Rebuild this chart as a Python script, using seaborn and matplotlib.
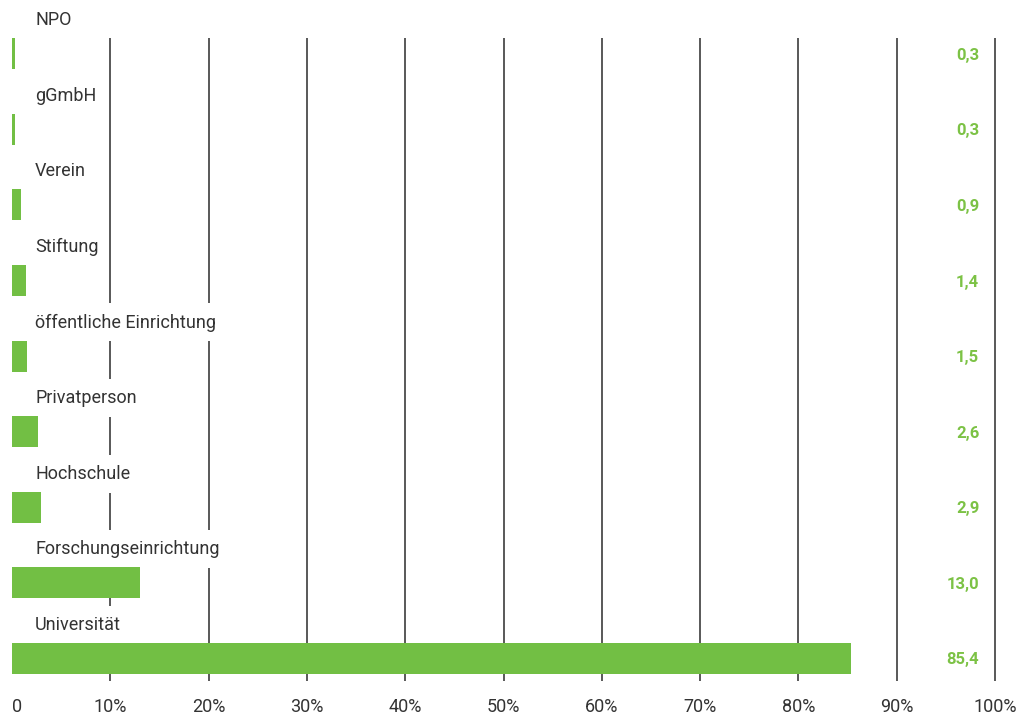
import matplotlib
matplotlib.use("Agg")
import matplotlib.pyplot as plt
import seaborn as sns
import pandas as pd

categories = ["NPO", "gGmbH", "Verein", "Stiftung", "öffentliche Einrichtung",
              "Privatperson", "Hochschule", "Forschungseinrichtung", "Universität"]
values = [0.3, 0.3, 0.9, 1.4, 1.5, 2.6, 2.9, 13.0, 85.4]
value_labels = ["0,3", "0,3", "0,9", "1,4", "1,5", "2,6", "2,9", "13,0", "85,4"]
x_ticks = [0, 10, 20, 30, 40, 50, 60, 70, 80, 90, 100]
x_tick_labels = ["0", "10%", "20%", "30%", "40%", "50%", "60%", "70%", "80%", "90%", "100%"]

BAR_GREEN = "#72bf44"
VALUE_GREEN = "#7cc245"
TEXT_GREY = "#333333"
LINE_GREY = "#2b2b2b"

sns.set_theme(style="white")
plt.rcParams["font.family"] = ["Roboto", "DejaVu Sans"]

df = pd.DataFrame({"category": categories, "share": values})

W, H = 1023, 715
fig = plt.figure(figsize=(W / 100, H / 100), dpi=100)
ax = fig.add_axes([12 / W, 1 - 681 / H, 983 / W, (681 - 38) / H])

sns.barplot(data=df, x="share", y="category", orient="h", color=BAR_GREEN,
            saturation=1, width=0.41, linewidth=0, ax=ax, zorder=3)

ax.set_xlim(0, 100)
ax.set_ylim(8.3, -0.21)

# vertical reference lines at every 10 %
ax.vlines(x_ticks[1:], 8.3, -0.21, color=LINE_GREY, linewidth=1.1, zorder=1,
          clip_on=False)

for s in ax.spines.values():
    s.set_visible(False)

ax.set_xticks(x_ticks)
ax.set_xticklabels(x_tick_labels, fontsize=13, color=TEXT_GREY)
ax.get_xticklabels()[0].set_horizontalalignment("left")
ax.tick_params(axis="x", length=0, pad=12)
ax.set_yticks([])
ax.set_xlabel("")
ax.set_ylabel("")

for i, (cat, lab) in enumerate(zip(categories, value_labels)):
    ax.text(2.35, i - 0.445, cat, ha="left", va="center", fontsize=13,
            color=TEXT_GREY, zorder=2, clip_on=False,
            bbox=dict(boxstyle="square,pad=0.55", facecolor="white",
                      edgecolor="none"))
    ax.text(98.4, i + 0.02, lab, ha="right", va="center", fontsize=12,
            fontweight="bold", color=VALUE_GREEN, zorder=4)

fig.savefig("out.png", dpi=100)
